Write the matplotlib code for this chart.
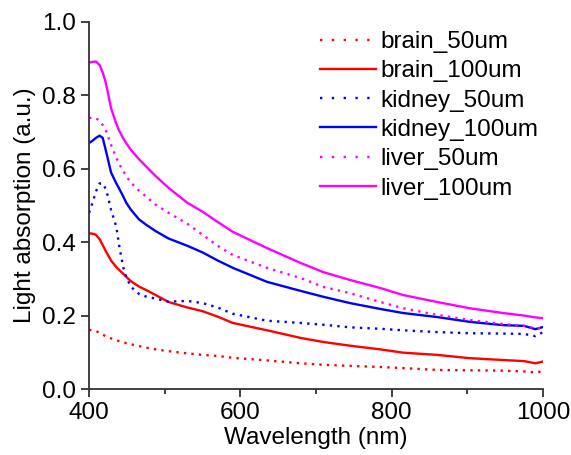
import matplotlib.pyplot as plt
from matplotlib.ticker import MultipleLocator

plt.rcParams['font.family'] = ['Liberation Sans', 'DejaVu Sans']

# wavelength grid (nm)
wavelength = [400, 405, 409, 414, 418, 422, 425, 429, 436, 440, 445, 449, 455, 466,
              475, 488, 505, 530, 550, 570, 590, 635, 680, 710, 745, 785, 815, 860,
              903, 947, 975, 990, 1000]

brain_50 = [0.161, 0.160, 0.158, 0.153, 0.148, 0.144, 0.141, 0.138, 0.133, 0.130, 0.128,
            0.125, 0.122, 0.117, 0.113, 0.108, 0.103, 0.097, 0.093, 0.090, 0.085, 0.078,
            0.070, 0.066, 0.063, 0.060, 0.057, 0.052, 0.051, 0.050, 0.048, 0.045, 0.049]
brain_100 = [0.424, 0.423, 0.420, 0.408, 0.392, 0.376, 0.365, 0.350, 0.332, 0.324, 0.314,
             0.306, 0.294, 0.279, 0.270, 0.256, 0.237, 0.222, 0.212, 0.197, 0.180, 0.160,
             0.139, 0.128, 0.118, 0.108, 0.099, 0.093, 0.084, 0.079, 0.076, 0.070, 0.075]
kidney_50 = [0.480, 0.510, 0.538, 0.560, 0.560, 0.545, 0.524, 0.488, 0.442, 0.388, 0.333,
             0.306, 0.279, 0.259, 0.252, 0.246, 0.238, 0.240, 0.234, 0.222, 0.205, 0.186,
             0.180, 0.175, 0.168, 0.164, 0.160, 0.155, 0.152, 0.151, 0.150, 0.144, 0.155]
kidney_100 = [0.670, 0.677, 0.684, 0.690, 0.684, 0.651, 0.625, 0.590, 0.560, 0.545, 0.525,
              0.508, 0.489, 0.462, 0.448, 0.430, 0.410, 0.390, 0.372, 0.350, 0.330, 0.292,
              0.267, 0.251, 0.234, 0.218, 0.207, 0.196, 0.183, 0.174, 0.172, 0.163, 0.169]
liver_50 = [0.738, 0.739, 0.738, 0.730, 0.719, 0.705, 0.688, 0.665, 0.630, 0.612, 0.594,
            0.580, 0.563, 0.540, 0.525, 0.502, 0.480, 0.450, 0.420, 0.390, 0.365, 0.330,
            0.302, 0.278, 0.261, 0.237, 0.220, 0.202, 0.188, 0.177, 0.172, 0.165, 0.166]
liver_100 = [0.889, 0.891, 0.892, 0.882, 0.862, 0.835, 0.806, 0.765, 0.722, 0.703, 0.683,
             0.670, 0.652, 0.626, 0.607, 0.580, 0.548, 0.507, 0.483, 0.455, 0.428, 0.384,
             0.343, 0.318, 0.297, 0.275, 0.256, 0.237, 0.220, 0.207, 0.200, 0.195, 0.193]

series = [
    ("brain_50um", brain_50, "#ff0000", ":"),
    ("brain_100um", brain_100, "#ff0000", "-"),
    ("kidney_50um", kidney_50, "#0000ff", ":"),
    ("kidney_100um", kidney_100, "#0000ff", "-"),
    ("liver_50um", liver_50, "#ff00ff", ":"),
    ("liver_100um", liver_100, "#ff00ff", "-"),
]

fig = plt.figure(figsize=(5.71, 4.55), dpi=100)
ax = fig.add_axes([0.156, 0.145, 0.795, 0.807])

for name, vals, col, ls in series:
    dash = (0, (1, 2.2)) if ls == ":" else "-"
    ax.plot(wavelength, vals, color=col, linestyle=dash, lw=1.7, label=name)

ax.set_xlim(400, 1000)
ax.set_ylim(0, 1.0)
ax.xaxis.set_major_locator(MultipleLocator(200))
ax.xaxis.set_minor_locator(MultipleLocator(100))
ax.yaxis.set_major_locator(MultipleLocator(0.2))
ax.yaxis.set_major_formatter(plt.FormatStrFormatter('%.1f'))

for s in ['top', 'right']:
    ax.spines[s].set_visible(False)
for s in ['left', 'bottom']:
    ax.spines[s].set_linewidth(1.3)
    ax.spines[s].set_color('#333333')

ax.tick_params(which='major', direction='out', length=6, width=1.3, labelsize=17.5, color='#333333')
ax.tick_params(which='minor', direction='out', length=3.5, width=1.3, color='#333333')

ax.set_xlabel("Wavelength (nm)", fontsize=17.5, labelpad=2)
ax.set_ylabel("Light absorption (a.u.)", fontsize=17.5, labelpad=4)

leg = ax.legend(loc='upper right', bbox_to_anchor=(0.99, 0.975), frameon=False,
                fontsize=17.5, borderpad=0, borderaxespad=0, handlelength=2.3,
                handletextpad=0.2, labelspacing=0.3)
for line in leg.get_lines():
    if line.get_linestyle() != '-':
        line.set_linestyle((0, (1, 4)))

fig.savefig("out.png", dpi=100)
